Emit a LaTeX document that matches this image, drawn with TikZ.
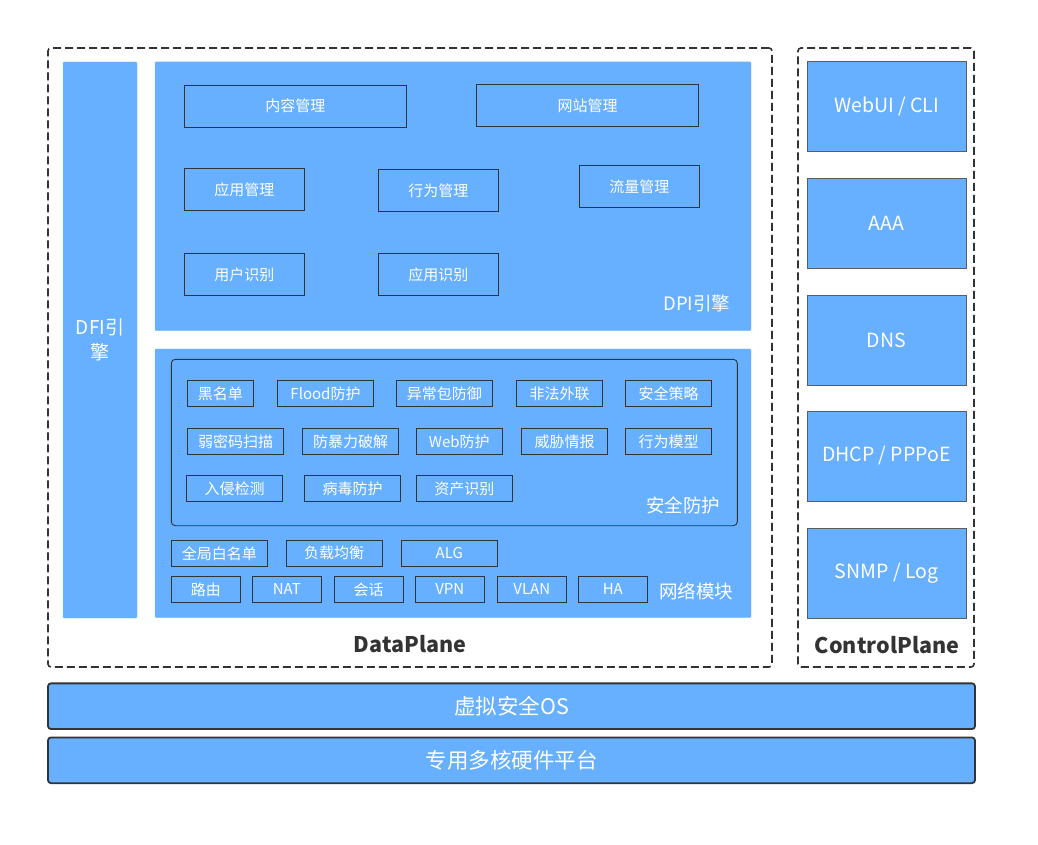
\documentclass[tikz,border=0pt]{standalone}
\usepackage{fontspec}
\setmainfont{Noto Sans CJK SC}
\usepackage{xcolor}
\usepackage{tikz}
\usetikzlibrary{positioning}
\definecolor{blu}{HTML}{66B0FF}
\definecolor{edge}{HTML}{333333}

\begin{document}
\begin{tikzpicture}[x=1pt,y=-1pt,
    panel/.style={fill=blu,draw=blu!80!white,rounded corners=1pt,inner sep=0,text=white},
    mod/.style={draw=edge,fill=blu,line width=0.9pt,inner sep=0,text=white,font=\fontsize{15}{18}\selectfont},
    bigmod/.style={mod,minimum height=42pt},
    smod/.style={mod,minimum height=26.4pt},
    cmod/.style={mod,draw=edge!80,minimum width=159pt,minimum height=90pt,font=\fontsize{19.5}{23}\selectfont},
    lbl/.style={text=white,inner sep=0,font=\fontsize{18.5}{22}\selectfont},
    plane/.style={draw=edge,line width=1.6pt,dash pattern=on 8pt off 4pt,rounded corners=3pt,inner sep=0},
    bar/.style={draw=edge,fill=blu,line width=1.8pt,rounded corners=3pt,inner sep=0,text=white,minimum width=927pt,minimum height=45.7pt,font=\fontsize{21.5}{25}\selectfont}]
  \useasboundingbox (0,0) rectangle (1038,845);
  % data plane / control plane
  \node(dp)[plane,minimum width=724pt,minimum height=619pt] at (410,357.5) {};
  \node(cp)[plane,minimum width=176pt,minimum height=619pt] at (886,357.5) {};
  \node(dplbl)[font=\fontsize{21.5}{25}\selectfont\bfseries,text=edge,inner sep=0] at (410,644) {DataPlane};
  \node(cplbl)[font=\fontsize{21.5}{25}\selectfont\bfseries,text=edge,inner sep=0] at (887,645) {ControlPlane};
  % DFI
  \node(dfi)[panel,minimum width=74pt,minimum height=556pt,align=center,font=\fontsize{19}{25}\selectfont] at (100,340) {DFI引\\擎};
  % DPI engine
  \node(dpi)[panel,minimum width=596pt,minimum height=268.7pt] at (453,196.3) {};
  \node(nrgl)[bigmod,minimum width=222pt] at (295.3,106) {内容管理};
  \node(wzgl)[bigmod,minimum width=222pt] at (587.5,105.3) {网站管理};
  \node(yygl)[bigmod,minimum width=120pt] at (244.3,189.8) {应用管理};
  \node(xwgl)[bigmod,minimum width=120pt] at (438.3,190.8) {行为管理};
  \node(llgl)[bigmod,minimum width=120pt] at (639.3,186.8) {流量管理};
  \node(yhsb)[bigmod,minimum width=120pt] at (244.3,274.8) {用户识别};
  \node(yysb)[bigmod,minimum width=120pt] at (438.3,274.8) {应用识别};
  \node(dpilbl)[lbl] at (696.7,303) {DPI引擎};
  % security + network
  \node(sec)[panel,minimum width=596pt,minimum height=268.7pt] at (453,483.3) {};
  \node(aqfh)[draw=edge,line width=0.9pt,rounded corners=4pt,minimum width=566pt,minimum height=166.4pt,inner sep=0] at (454.3,442.5) {};
  \node(hmd)[smod,minimum width=66pt] at (220.3,393.5) {黑名单};
  \node(flood)[smod,minimum width=96.4pt] at (325.5,393.5) {Flood防护};
  \node(ycb)[smod,minimum width=96pt] at (444.3,393.5) {异常包防御};
  \node(ffwl)[smod,minimum width=86.4pt] at (559.5,393.5) {非法外联};
  \node(aqcl)[smod,minimum width=86.4pt] at (668.5,393.5) {安全策略};
  \node(rmm)[smod,minimum width=96.4pt] at (235.5,441.5) {弱密码扫描};
  \node(bljp)[smod,minimum width=96.4pt] at (350.5,441.5) {防暴力破解};
  \node(webfh)[smod,minimum width=86.7pt] at (459.3,441.5) {Web防护};
  \node(wxqb)[smod,minimum width=86.4pt] at (564.5,441.5) {威胁情报};
  \node(xwmx)[smod,minimum width=86.4pt] at (668.5,441.5) {行为模型};
  \node(rqjc)[smod,minimum width=96.4pt] at (234.5,488.5) {入侵检测};
  \node(bdfh)[smod,minimum width=96.4pt] at (352.5,488.5) {病毒防护};
  \node(zcsb)[smod,minimum width=96.7pt] at (464.3,488.5) {资产识别};
  \node(aqlbl)[lbl] at (683,505.5) {安全防护};
  \node(qjbmd)[smod,minimum width=96pt] at (219.3,553.3) {全局白名单};
  \node(fzjh)[smod,minimum width=96.3pt] at (334.2,553.3) {负载均衡};
  \node(alg)[smod,minimum width=96pt] at (449.3,553.3) {ALG};
  \node(ly)[smod,minimum width=69pt] at (205.8,589.3) {路由};
  \node(nat)[smod,minimum width=69pt] at (286.8,589.3) {NAT};
  \node(hh)[smod,minimum width=69pt] at (368.7,589.3) {会话};
  \node(vpn)[smod,minimum width=69pt] at (449.8,589.3) {VPN};
  \node(vlan)[smod,minimum width=69pt] at (531.8,589.3) {VLAN};
  \node(ha)[smod,minimum width=69pt] at (612.8,589.3) {HA};
  \node(wllbl)[lbl] at (696.3,591) {网络模块};
  % control plane modules
  \node(webui)[cmod] at (886.5,106) {WebUI / CLI};
  \node(aaa)[cmod] at (886.5,223) {AAA};
  \node(dns)[cmod] at (886.5,340) {DNS};
  \node(dhcp)[cmod] at (886.5,456) {DHCP / PPPoE};
  \node(snmp)[cmod] at (886.5,573) {SNMP / Log};
  % bottom layers
  \node(os)[bar] at (511.5,706.2) {虚拟安全OS};
  \node(hw)[bar] at (511.5,760.3) {专用多核硬件平台};
\end{tikzpicture}
\end{document}
